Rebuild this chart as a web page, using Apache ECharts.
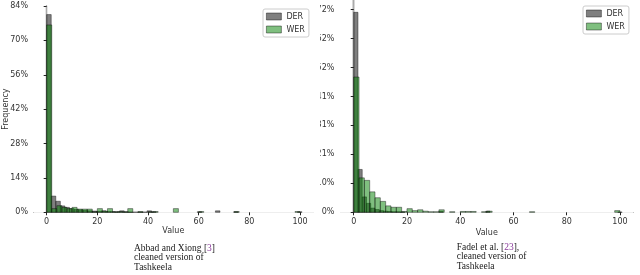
<!DOCTYPE html>
<html>
<head>
<meta charset="utf-8">
<script src="https://cdn.jsdelivr.net/npm/echarts@6/dist/echarts.min.js"></script>
<style>
  html, body { margin: 0; padding: 0; background: #fff; }
  #wrap { position: relative; width: 640px; height: 275px; overflow: hidden; }
  #left { position: absolute; left: 0; top: 0; width: 320px; height: 275px; }
  #right { position: absolute; left: 320px; top: 0; width: 320px; height: 275px; }
</style>
</head>
<body>
<div id="wrap"><div id="left"></div><div id="right"></div></div>
<script>
// ---------- DATA ----------
const seriesNames = ['DER', 'WER'];
const xTicks = [0, 20, 40, 60, 80, 100];

// Left panel: Abbad and Xiong, cleaned Tashkeela
const leftDerBinWidth = 1.8;
const leftDerValues = [80.5, 6.6, 4.5, 2.6, 2.0, 1.5, 1.2, 1.0, 0.8, 0.6,
  0.5, 0.4, 0.6, 0.3, 0.3, 0.2, 0.6, 0.2, 0.1, 0.1,
  0.1, 0.1, 0.6, 0.2, 0, 0, 0, 0, 0, 0,
  0, 0, 0, 0.2, 0, 0, 0, 0.6, 0, 0,
  0, 0.2, 0, 0, 0, 0, 0, 0, 0, 0,
  0, 0, 0, 0, 0, 0.2];
const leftWerBinWidth = 2;
const leftWerValues = [76.3, 1.5, 2.7, 2.0, 1.5, 2.0, 1.3, 1.3, 1.3, 0.2,
  1.5, 0.5, 1.5, 0.2, 0.3, 0.2, 1.5, 0, 0.3, 0,
  0.2, 0.3, 0, 0, 0, 1.5, 0, 0, 0, 0,
  0.3, 0, 0, 0, 0, 0, 0, 0.3, 0, 0,
  0, 0, 0, 0, 0, 0, 0, 0, 0, 0.3];
const leftYTicks = [0, 14, 28, 42, 56, 70, 84];
const leftYLabels = ['0%', '14%', '28%', '42%', '56%', '70%', '84%'];
const leftYMax = 84;

// Right panel: Fadel et al., cleaned Tashkeela
const rightDerBinWidth = 1.6;
const rightDerValues = [71.4, 15.3, 5.5, 3.2, 1.5, 1.0, 0.6, 0.4, 0.3, 0.2,
  0.2, 0.1, 0, 0, 0, 0, 0, 0, 0, 0,
  0.3, 0, 0, 0, 0, 0, 0, 0, 0, 0,
  0, 0.4, 0, 0, 0, 0, 0, 0, 0, 0,
  0, 0, 0, 0, 0, 0, 0, 0, 0, 0,
  0, 0, 0, 0, 0, 0, 0, 0, 0, 0,
  0, 0, 0.1];
const rightWerBinWidth = 2;
const rightWerValues = [48.3, 12.3, 11.4, 7.3, 5.2, 3.9, 2.3, 1.8, 1.8, 0.3,
  1.3, 0.6, 0.9, 0.4, 0.2, 0.2, 0.9, 0, 0.2, 0,
  0.3, 0.3, 0.3, 0, 0.2, 0.4, 0, 0, 0, 0,
  0, 0, 0, 0.2, 0, 0, 0, 0, 0, 0,
  0, 0, 0, 0, 0, 0, 0, 0, 0, 0.6];
const rightYTicks = [0, 10.343, 20.686, 31.029, 41.371, 51.714, 62.057, 72.4];
const rightYLabels = ['0%', '10%', '21%', '31%', '41%', '52%', '62%', '72%'];
const rightYMax = 75.8;

// ---------- STYLE ----------
const derFill = 'rgba(0,0,0,0.5)';
const werFill = 'rgba(0,128,0,0.5)';
const edge = 'rgba(0,0,0,0.5)';
const tickFont = 'DejaVu Sans';

function toBins(values, width) {
  return values.map((v, i) => [i * width, (i + 1) * width, v]);
}

function barSeries(name, values, width, fill) {
  return {
    type: 'custom',
    name: name,
    data: toBins(values, width),
    encode: { x: [0, 1], y: 2 },
    itemStyle: { color: fill, borderColor: edge, borderWidth: 0.8 },
    renderItem: function (params, api) {
      const y = api.value(2);
      if (!(y > 0)) return null;
      const p0 = api.coord([api.value(0), y]);
      const p1 = api.coord([api.value(1), 0]);
      return {
        type: 'rect',
        shape: { x: p0[0], y: p0[1], width: p1[0] - p0[0], height: p1[1] - p0[1] },
        style: { fill: fill, stroke: edge, lineWidth: 0.8 }
      };
    },
    silent: true,
    animation: false
  };
}

function makeOption(cfg) {
  return {
    animation: false,
    grid: {
      left: cfg.gridLeft, top: cfg.gridTop, width: cfg.gridWidth, height: cfg.gridHeight,
      containLabel: false, outerBoundsMode: 'none'
    },
    legend: {
      orient: 'vertical',
      left: cfg.legendLeft, top: cfg.legendTop,
      itemWidth: 15, itemHeight: 7, itemGap: 4,
      padding: [3, 4, 3, 3],
      backgroundColor: '#fff', borderColor: '#cccccc', borderWidth: 1, borderRadius: 2,
      textStyle: { fontFamily: tickFont, fontSize: 8, color: '#333', lineHeight: 9 },
      selectedMode: false,
      data: [
        { name: 'DER', icon: 'rect', itemStyle: { color: derFill, borderColor: edge, borderWidth: 0.8 } },
        { name: 'WER', icon: 'rect', itemStyle: { color: werFill, borderColor: edge, borderWidth: 0.8 } }
      ]
    },
    xAxis: [{
      type: 'value', min: -5, max: 105,
      name: 'Value', nameLocation: 'middle', nameGap: cfg.xNameGap, nameMoveOverlap: false,
      nameTextStyle: { fontFamily: tickFont, fontSize: 8, color: '#333' },
      axisLine: { show: true, lineStyle: { color: '#222', width: 1 } },
      axisTick: { show: true, length: 3, customValues: xTicks, lineStyle: { color: '#222' } },
      axisLabel: { customValues: xTicks, fontFamily: tickFont, fontSize: 8, color: '#333', margin: 6 },
      splitLine: { show: false }
    }, {
      type: 'value', min: -5, max: 105, position: 'top',
      axisLine: { show: true, lineStyle: { color: '#eeeeee', width: 1 } },
      axisTick: { show: false }, axisLabel: { show: false }, splitLine: { show: false }
    }],
    yAxis: [{
      type: 'value', min: 0, max: cfg.yMax,
      name: cfg.yName, nameLocation: 'middle', nameGap: 24, nameRotate: 90, nameMoveOverlap: false,
      nameTextStyle: { fontFamily: tickFont, fontSize: 8, color: '#333' },
      axisLine: { show: true, lineStyle: { color: cfg.leftSpine, width: 1.3 } },
      axisTick: { show: true, length: 3, customValues: cfg.yTicks, lineStyle: { color: '#222' } },
      axisLabel: {
        customValues: cfg.yTicks, fontFamily: tickFont, fontSize: 8, color: '#333', margin: 6,
        formatter: function (v) {
          let best = 0;
          cfg.yTicks.forEach((t, i) => { if (Math.abs(t - v) < Math.abs(cfg.yTicks[best] - v)) best = i; });
          return cfg.yLabels[best];
        }
      },
      splitLine: { show: false }
    }, {
      type: 'value', min: 0, max: cfg.yMax, position: 'right',
      axisLine: { show: true, lineStyle: { color: '#aaaaaa', width: 1.3 } },
      axisTick: { show: false }, axisLabel: { show: false }, splitLine: { show: false }
    }],
    graphic: [{
      type: 'text', left: cfg.capLeft, top: cfg.capTop,
      style: {
        text: cfg.caption,
        font: '9.5px "Liberation Serif"',
        fill: '#1a1a1a',
        lineHeight: 9.8,
        rich: { c: { fill: '#8a3a9a', font: '9.5px "Liberation Serif"', lineHeight: 9.8 } }
      }
    }],
    series: [
      barSeries('DER', cfg.der, cfg.derW, derFill),
      barSeries('WER', cfg.wer, cfg.werW, werFill)
    ]
  };
}

const leftChart = echarts.init(document.getElementById('left'), null, { renderer: 'canvas' });
leftChart.setOption(makeOption({
  gridLeft: 34, gridTop: 6, gridWidth: 278.7, gridHeight: 206.3,
  legendLeft: 263, legendTop: 9,
  xNameGap: 15, yName: 'Frequency', yMax: leftYMax,
  yTicks: leftYTicks, yLabels: leftYLabels, leftSpine: '#999999',
  capLeft: 134, capTop: 243,
  caption: 'Abbad and Xiong [{c|3}]\ncleaned version of\nTashkeela',
  der: leftDerValues, derW: leftDerBinWidth, wer: leftWerValues, werW: leftWerBinWidth
}));

const rightChart = echarts.init(document.getElementById('right'), null, { renderer: 'canvas' });
rightChart.setOption(makeOption({
  gridLeft: 20.4, gridTop: 0, gridWidth: 292.9, gridHeight: 212.3,
  legendLeft: 263, legendTop: 6,
  xNameGap: 16.5, yName: '', yMax: rightYMax,
  yTicks: rightYTicks, yLabels: rightYLabels, leftSpine: '#333333',
  capLeft: 136.7, capTop: 242,
  caption: 'Fadel et al. [{c|23}],\ncleaned version of\nTashkeela',
  der: rightDerValues, derW: rightDerBinWidth, wer: rightWerValues, werW: rightWerBinWidth
}));
</script>
</body>
</html>
